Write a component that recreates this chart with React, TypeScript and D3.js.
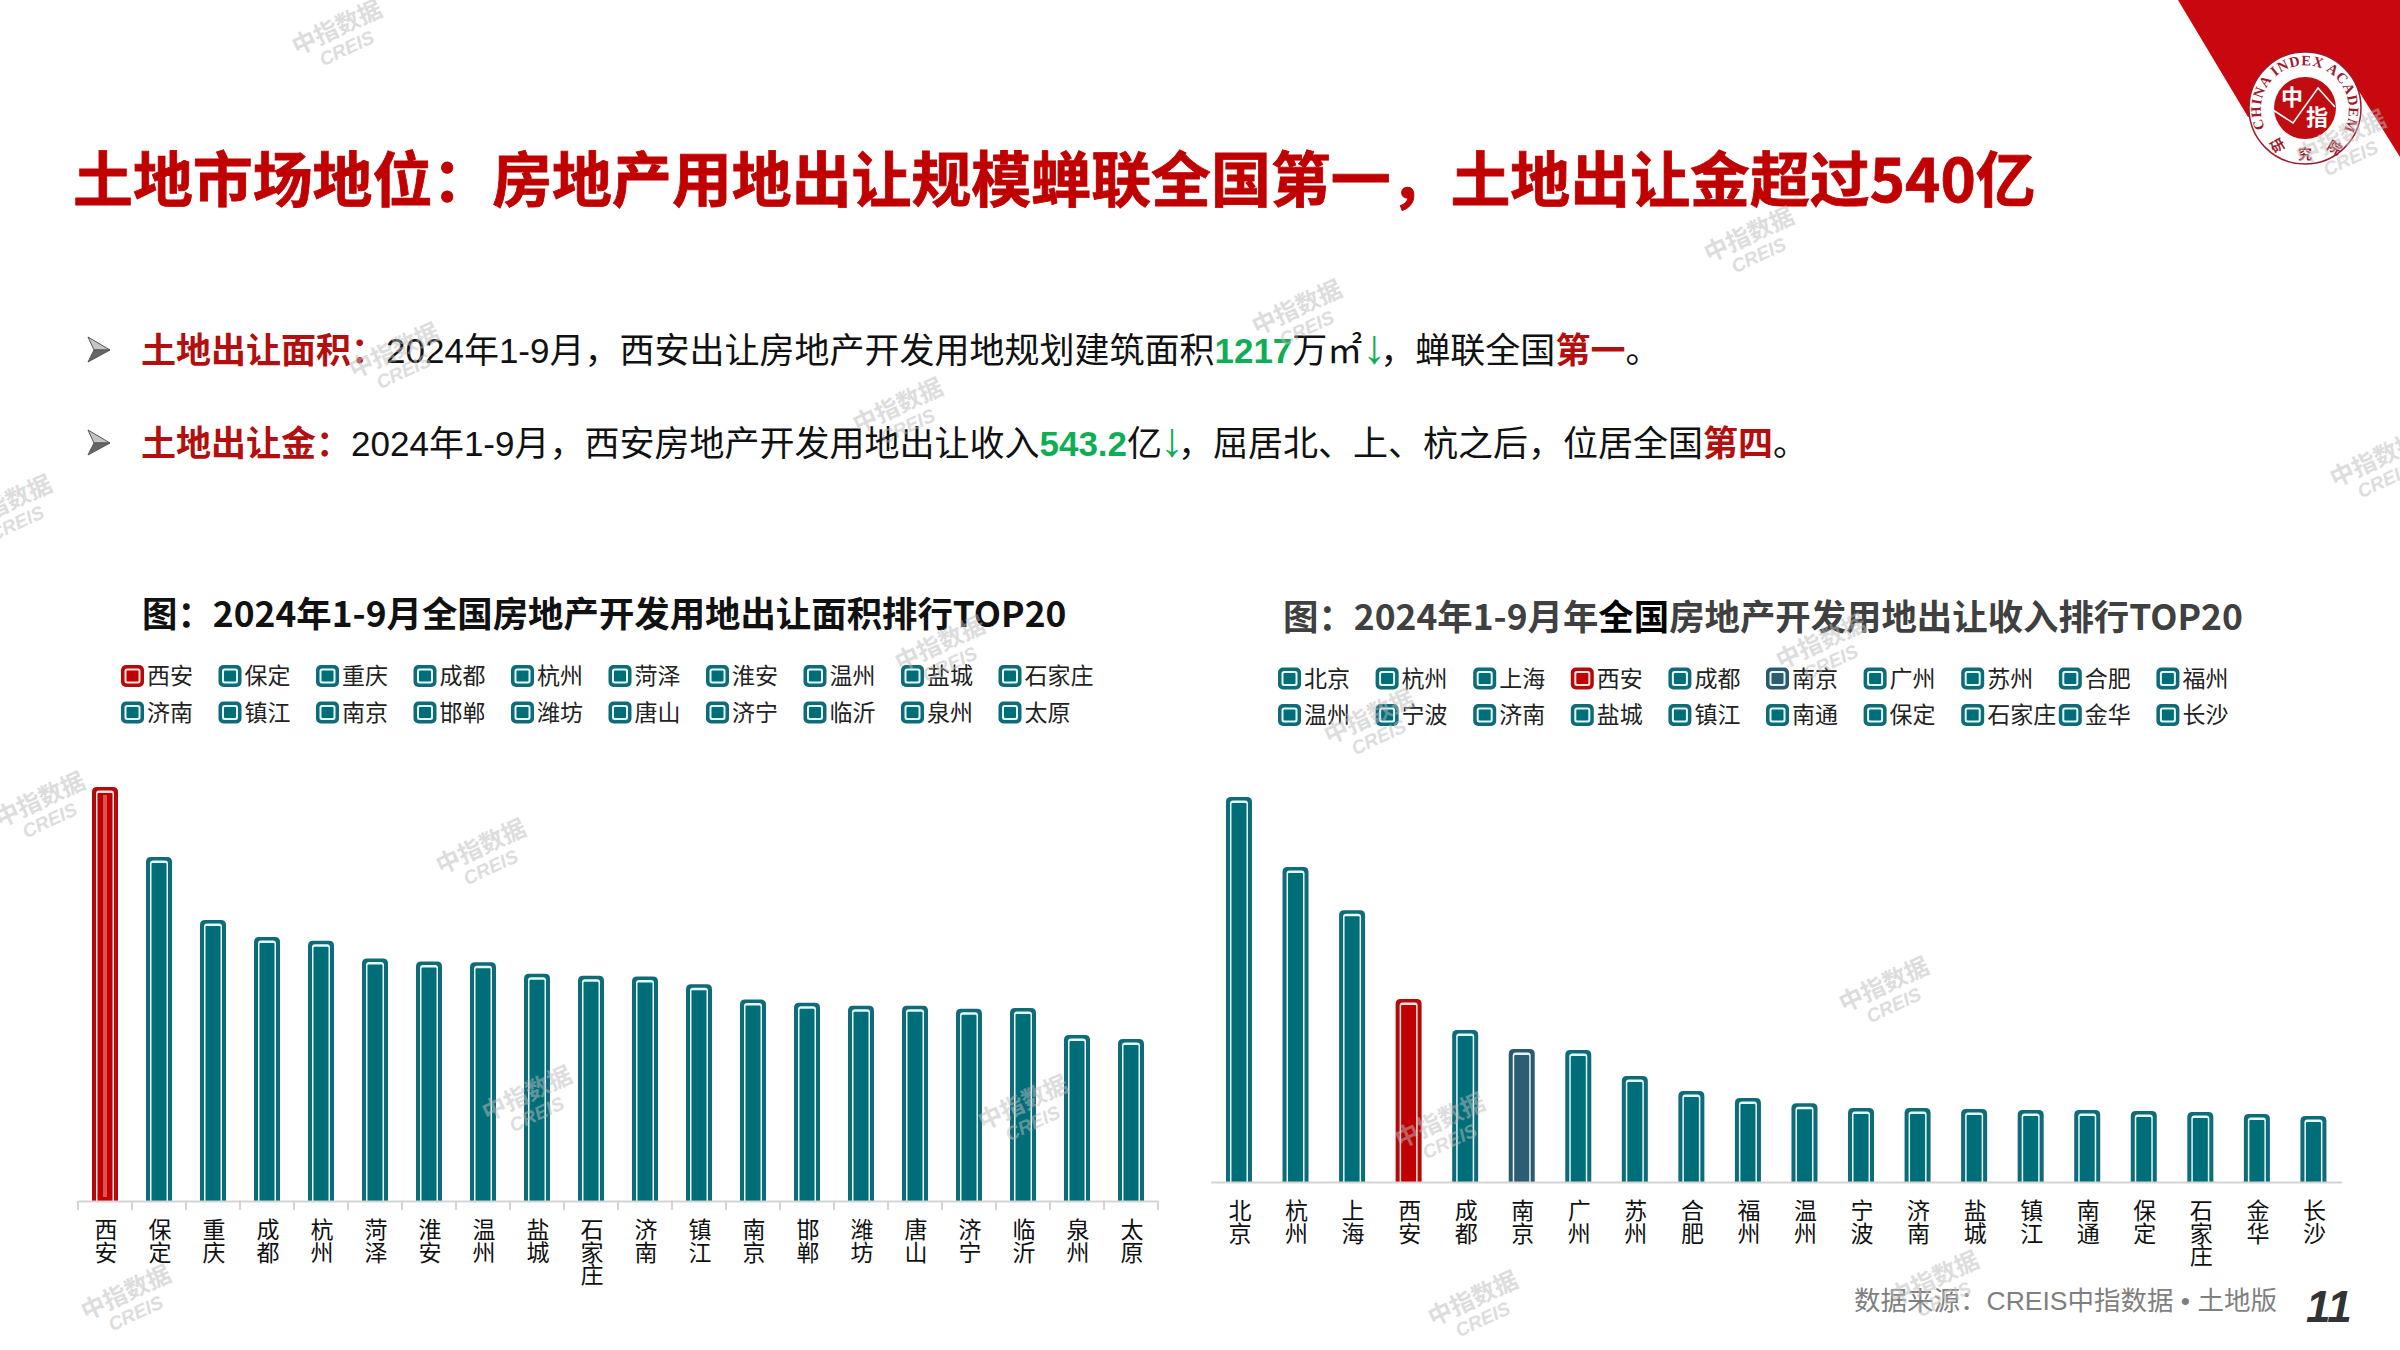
import React, { useEffect, useRef } from 'react';
import * as d3 from 'd3';

// 面积排行 (万㎡), 只有西安是原文给的数字, 其余按柱高估算
const areaCities = ['西安', '保定', '重庆', '成都', '杭州', '菏泽', '淮安', '温州', '盐城', '石家庄', '济南', '镇江', '南京', '邯郸', '潍坊', '唐山', '济宁', '临沂', '泉州', '太原'];
const areaValues = [1217, 1011, 826, 776, 765, 713, 704, 702, 668, 662, 660, 637, 592, 583, 574, 574, 565, 567, 488, 476];

// 收入排行 (亿元), 同上
const revenueCities = ['北京', '杭州', '上海', '西安', '成都', '南京', '广州', '苏州', '合肥', '福州', '温州', '宁波', '济南', '盐城', '镇江', '南通', '保定', '石家庄', '金华', '长沙'];
const revenueValues = [1143, 935, 807, 543.2, 451, 395, 392, 315, 270, 249, 234, 220, 220, 217, 214, 214, 211, 208, 202, 196];

const sans = '"Liberation Sans","Noto Sans CJK SC",sans-serif';
const cjk = '"Noto Sans CJK SC",sans-serif';

const palette: any = {
  teal: { outer: '#0f6b78', ring: '#e2fbfb', fill: '#006e78' },
  red: { outer: '#b50a0a', ring: '#fbe3df', fill: '#c00000' },
  slate: { outer: '#2b5a6e', ring: '#e4f4f8', fill: '#2c5d73' },
};

const marks = [
  [341, 36], [1753, 243], [1301, 316], [398, 359], [902, 414], [2379, 468], [11, 511], [44, 808], [485, 855], [944, 652],
  [1825, 650], [1373, 725], [1888, 993], [531, 1102], [1027, 1111], [1444, 1129], [1938, 1287], [130, 1301], [1477, 1307], [2345, 146],
];

function topRound(x: number, y: number, w: number, bottom: number, r: number) {
  return `M${x},${bottom} V${y + r} Q${x},${y} ${x + r},${y} H${x + w - r} Q${x + w},${y} ${x + w},${y + r} V${bottom} Z`;
}

function drawChart(svg: any, opts: any) {
  const { cities, values, x0, x1, base, top, maxVal, colors, ticks, glow } = opts;
  const x = d3.scaleBand().domain(cities).range([x0, x1]).padding(0);
  const y = d3.scaleLinear().domain([0, maxVal]).range([base, top]);
  const barW = 26;
  const g = svg.append('g');

  cities.forEach((c: string, i: number) => {
    const p = palette[colors[c] || 'teal'];
    const bx = (x(c) as number) + x.bandwidth() / 2 - barW / 2;
    const by = y(values[i]);
    g.append('path').attr('d', topRound(bx, by, barW, base, 5)).attr('fill', p.outer);
    g.append('path').attr('d', topRound(bx + 4, by + 3.5, barW - 8, base, 3)).attr('fill', p.ring);
    g.append('path').attr('d', topRound(bx + 5.5, by + 6, barW - 11, base, 1)).attr('fill', p.fill);
    if (glow && glow === c) {
      g.append('rect').attr('x', bx + 11).attr('y', by + 8).attr('width', 4).attr('height', base - by - 12).attr('fill', '#d9554c');
    }
  });

  const axis = g.append('g')
    .attr('transform', `translate(0,${base})`)
    .call(d3.axisBottom(x).tickSize(0).tickPadding(21));
  axis.select('.domain').attr('stroke', '#d4d4d4').attr('stroke-width', 2);
  axis.selectAll('.tick text').each(function (this: any, d: any) {
    const t = d3.select(this).text('').attr('font-family', cjk).attr('font-size', 23).attr('fill', '#111');
    d.split('').forEach((ch: string, i: number) => {
      t.append('tspan').attr('x', 1).attr('dy', i === 0 ? 16 : 22.6).text(ch);
    });
  });

  if (ticks) {
    d3.range(cities.length + 1).forEach((i) => {
      const tx = x0 + i * x.step();
      g.append('line').attr('x1', tx).attr('x2', tx).attr('y1', base).attr('y2', base + 9).attr('stroke', '#d4d4d4').attr('stroke-width', 2);
    });
  }
}

function drawLegend(svg: any, cities: string[], colors: any, x0: number, rows: number[], step: number) {
  cities.forEach((c, i) => {
    const p = palette[colors[c] || 'teal'];
    const lx = x0 + (i % 10) * step;
    const ly = rows[Math.floor(i / 10)];
    svg.append('rect').attr('x', lx).attr('y', ly - 11).attr('width', 23).attr('height', 22).attr('rx', 5).attr('fill', p.outer);
    svg.append('rect').attr('x', lx + 3.5).attr('y', ly - 7.5).attr('width', 16).attr('height', 15).attr('rx', 2.5).attr('fill', p.ring);
    svg.append('rect').attr('x', lx + 5.5).attr('y', ly - 5.5).attr('width', 12).attr('height', 11).attr('rx', 1).attr('fill', p.fill);
    svg.append('text').attr('x', lx + 26).attr('y', ly + 8).attr('font-family', cjk).attr('font-size', 23).attr('fill', '#222').text(c);
  });
}

function richText(svg: any, x: number, y: number, size: number, parts: any[]) {
  const t = svg.append('text').attr('x', x).attr('y', y).attr('font-family', sans).attr('font-size', size).attr('fill', '#111');
  parts.forEach((p) => {
    const s = t.append('tspan').text(p[0]);
    if (p[1]) s.attr('fill', p[1]);
    if (p[2]) s.attr('font-weight', 700);
    if (p[3]) s.attr('font-size', p[3]);
    if (p[4]) s.attr('dx', p[4]);
  });
  return t;
}

function bullet(svg: any, cy: number) {
  svg.append('path').attr('d', `M88,${cy - 13} L110,${cy} L94,${cy} Z`).attr('fill', '#c4c4c4').attr('stroke', '#555').attr('stroke-width', 1);
  svg.append('path').attr('d', `M88,${cy + 12} L110,${cy} L94,${cy} Z`).attr('fill', '#666').attr('stroke', '#555').attr('stroke-width', 1);
}

function drawLogo(svg: any) {
  const cx = 2305;
  const cy = 108;
  svg.append('path').attr('d', 'M2178,0 H2400 V157 L2355,85 L2305,108 L2248,117 Z').attr('fill', '#c8070f');
  svg.append('circle').attr('cx', cx).attr('cy', cy).attr('r', 56).attr('fill', '#fff').attr('stroke', '#9c1c2e').attr('stroke-width', 1.5);
  svg.append('circle').attr('cx', cx).attr('cy', cy).attr('r', 31).attr('fill', '#c00d12');
  svg.append('path').attr('d', `M2273,110 L2293,123 L2318,88 L2335,107`).attr('fill', 'none').attr('stroke', '#fff').attr('stroke-width', 1.5);
  svg.append('text').attr('x', 2292).attr('y', 105).attr('text-anchor', 'middle').attr('font-family', cjk).attr('font-weight', 700).attr('font-size', 22).attr('fill', '#fff').text('中');
  svg.append('text').attr('x', 2317).attr('y', 125).attr('text-anchor', 'middle').attr('font-family', cjk).attr('font-weight', 700).attr('font-size', 22).attr('fill', '#fff').text('指');
  svg.append('defs').append('path').attr('id', 'logoArc').attr('d', `M${cx - 40},${cy + 20} A44,44 0 1 1 ${cx + 41},${cy + 17}`);
  svg.append('text').attr('font-family', '"Liberation Serif",serif').attr('font-weight', 700).attr('font-size', 14.5).attr('fill', '#9c1c2e')
    .append('textPath').attr('href', '#logoArc').attr('startOffset', '0%').attr('textLength', 190).text('CHINA INDEX ACADEMY');
  [['研', 2280, 150, -30], ['究', 2305, 159, 0], ['院', 2332, 152, 30]].forEach((d: any) => {
    svg.append('text').attr('transform', `translate(${d[1]},${d[2]}) rotate(${d[3]})`).attr('text-anchor', 'middle').attr('font-family', cjk).attr('font-weight', 700).attr('font-size', 14).attr('fill', '#9c1c2e').text(d[0]);
  });
}

const App: React.FC = () => {
  const ref = useRef<SVGSVGElement | null>(null);

  useEffect(() => {
    const svg = d3.select(ref.current);
    svg.selectAll('*').remove();

    drawLogo(svg);

    svg.append('text').attr('x', 73).attr('y', 202).attr('font-family', cjk).attr('font-weight', 700).attr('font-size', 59.9).attr('fill', '#c00000').attr('stroke', '#c00000').attr('stroke-width', 0.8)
      .text('土地市场地位：房地产用地出让规模蝉联全国第一，土地出让金超过540亿');

    bullet(svg, 350);
    bullet(svg, 443);
    const red = '#b30f0f';
    const green = '#0fae55';
    richText(svg, 141, 363, 35, [
      ['土地出让面积：', red, true], ['2024年1-9月，西安出让房地产开发用地规划建筑面积'], ['1217', green, true], ['万㎡'], ['↓', green, false, 48], ['，蝉联全国', null, false, 0, -6], ['第一', red, true], ['。'],
    ]);
    richText(svg, 141, 456, 35, [
      ['土地出让金：', red, true], ['2024年1-9月，西安房地产开发用地出让收入'], ['543.2', green, true], ['亿'], ['↓', green, false, 48, -2], ['，屈居北、上、杭之后，位居全国', null, false, 0, -6], ['第四', red, true], ['。'],
    ]);

    svg.append('text').attr('x', 142).attr('y', 627).attr('font-family', cjk).attr('font-weight', 700).attr('font-size', 35.4).attr('fill', '#111')
      .text('图：2024年1-9月全国房地产开发用地出让面积排行TOP20');
    const rt = svg.append('text').attr('x', 1283).attr('y', 630).attr('font-family', cjk).attr('font-weight', 700).attr('font-size', 35.4).attr('fill', '#404040');
    rt.append('tspan').text('图：2024年1-9月年');
    rt.append('tspan').attr('fill', '#000').text('全国');
    rt.append('tspan').text('房地产开发用地出让收入排行TOP20');

    const leftColors = { 西安: 'red' };
    const rightColors = { 西安: 'red', 南京: 'slate' };
    drawLegend(svg, areaCities, leftColors, 121, [676, 712.5], 97.5);
    drawLegend(svg, revenueCities, rightColors, 1278, [678.5, 715], 97.6);

    drawChart(svg, { cities: areaCities, values: areaValues, x0: 78, x1: 1158, base: 1201, top: 787, maxVal: 1217, colors: leftColors, ticks: true, glow: '西安' });
    drawChart(svg, { cities: revenueCities, values: revenueValues, x0: 1210.7, x1: 2341.7, base: 1182, top: 999, maxVal: 543.2, colors: rightColors, ticks: false });

    const foot = svg.append('text').attr('x', 1854).attr('y', 1310).attr('font-family', sans).attr('font-size', 26.5).attr('fill', '#7f7f7f');
    foot.text('数据来源：CREIS中指数据 • 土地版');
    svg.append('text').attr('x', 2306).attr('y', 1322).attr('font-family', sans).attr('font-weight', 700).attr('font-style', 'italic').attr('font-size', 44).attr('fill', '#333').text('11');

    // 水印
    marks.forEach((m) => {
      const w = svg.append('g').attr('transform', `translate(${m[0]},${m[1]}) rotate(-25)`).attr('fill', '#bdbdbd').attr('opacity', 0.5).attr('text-anchor', 'middle');
      w.append('text').attr('y', -1).attr('font-family', cjk).attr('font-weight', 700).attr('font-size', 24).text('中指数据');
      w.append('text').attr('y', 20).attr('font-family', sans).attr('font-weight', 700).attr('font-style', 'italic').attr('font-size', 19).text('CREIS');
    });
  }, []);

  return <svg ref={ref} width={2400} height={1350} style={{ position: 'absolute', left: 0, top: 0, background: '#fff' }} />;
};

export default App;
